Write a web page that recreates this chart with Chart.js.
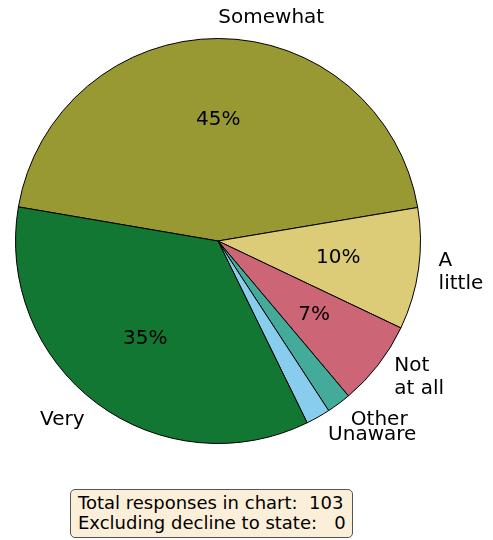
<!DOCTYPE html>
<html>
<head>
<meta charset="utf-8">
<script src="https://cdn.jsdelivr.net/npm/chart.js@4"></script>
<style>
  body { margin: 0; background: #fff; }
  #wrap { position: relative; width: 493px; height: 540px; }
  #note {
    position: absolute; left: 70px; top: 489px;
    padding: 3px 6px 4px 7px;
    background: #fbefd9; border: 1px solid #555; border-radius: 5px;
    font: 18px "DejaVu Sans", sans-serif; line-height: 20px; color: #000;
    white-space: pre;
  }
</style>
</head>
<body>
<div id="wrap">
  <canvas id="pie" width="493" height="540"></canvas>
  <div id="note">Total responses in chart:  103
Excluding decline to state:   0</div>
</div>
<script>
// answers, clockwise from the left edge
const labels = ['Somewhat', 'A\nlittle', 'Not\nat all', 'Other', 'Unaware', 'Very'];
const counts = [46, 10, 7, 2, 2, 36];
const colors = ['#999933', '#ddcc77', '#cc6677', '#44aa99', '#88ccee', '#117733'];

const total = counts.reduce((a, b) => a + b, 0);

const sliceText = {
    id: 'sliceText',
    afterDatasetsDraw(chart) {
        const ctx = chart.ctx;
        const arcs = chart.getDatasetMeta(0).data;
        ctx.save();
        ctx.fillStyle = '#000';
        ctx.font = '20px "DejaVu Sans", sans-serif';
        ctx.textBaseline = 'middle';
        arcs.forEach((arc, i) => {
            const mid = (arc.startAngle + arc.endAngle) / 2;
            const r = arc.outerRadius;
            const cx = Math.cos(mid), cy = Math.sin(mid);
            // outside label
            const lx = arc.x + cx * r * 1.1, ly = arc.y + cy * r * 1.1;
            ctx.textAlign = cx > 0 ? 'left' : 'right';
            const lines = labels[i].split('\n');
            const lh = 23;
            lines.forEach((t, k) => {
                ctx.fillText(t, lx, ly + (k - (lines.length - 1) / 2) * lh);
            });
            // percent inside
            const pct = counts[i] / total * 100;
            if (pct >= 5) {
                ctx.textAlign = 'center';
                ctx.fillText(Math.round(pct) + '%', arc.x + cx * r * 0.6, arc.y + cy * r * 0.6);
            }
        });
        ctx.restore();
    }
};

new Chart(document.getElementById('pie'), {
    type: 'pie',
    data: {
        labels: labels,
        datasets: [{
            data: counts,
            backgroundColor: colors,
            borderColor: '#000',
            borderWidth: 1
        }]
    },
    options: {
        responsive: false,
        animation: false,
        rotation: 279.7,
        layout: { padding: { left: 15, right: 72, top: 38, bottom: 96 } },
        plugins: { legend: { display: false }, tooltip: { enabled: false } }
    },
    plugins: [sliceText]
});
</script>
</body>
</html>
